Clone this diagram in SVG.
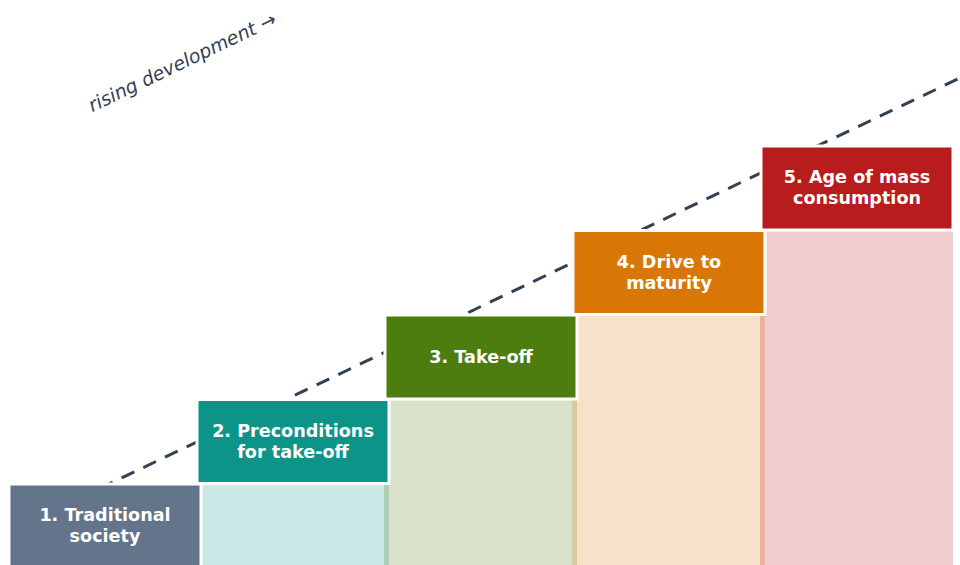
<svg xmlns="http://www.w3.org/2000/svg" width="960" height="565" viewBox="0 0 960 565">
<style>
.col{stroke:none;fill-opacity:0.22}
.box{stroke:#ffffff;stroke-width:3}
.lbl{font-family:"DejaVu Sans","Liberation Sans",sans-serif;font-size:17.6px;font-weight:bold;fill:#ffffff;text-anchor:middle}
.axis{font-family:"DejaVu Sans","Liberation Sans",sans-serif;font-size:19px;font-style:italic;fill:#334155;text-anchor:middle}
</style>
<rect width="960" height="565" fill="#ffffff"/>
<g id="columns">
<rect class="col" x="196" y="399.5" width="193" height="170" fill="#0d9488"/>
<rect class="col" x="384" y="315" width="193" height="255" fill="#4d7c0f"/>
<rect class="col" x="572" y="230.5" width="193" height="340" fill="#d97706"/>
<rect class="col" x="760" y="146" width="193" height="424" fill="#b91c1c"/>
</g>
<g id="connectors">
<line x1="100" y1="488.2" x2="975" y2="70.8" stroke="#334155" stroke-width="3" stroke-dasharray="14 10"/>
</g>
<text class="axis" x="185" y="68" transform="rotate(-25.5 185 68)">rising development →</text>
<g id="step1">
<rect class="box" x="9" y="484" width="192" height="84" fill="#64748b"/>
<text class="lbl" x="105" y="521">1. Traditional</text>
<text class="lbl" x="105" y="542">society</text>
</g>
<g id="step2">
<rect class="box" x="197" y="399.5" width="192" height="84" fill="#0d9488"/>
<text class="lbl" x="293" y="436.5">2. Preconditions</text>
<text class="lbl" x="293" y="457.5">for take-off</text>
</g>
<g id="step3">
<rect class="box" x="385" y="315" width="192" height="84" fill="#4d7c0f"/>
<text class="lbl" x="481" y="362.5">3. Take-off</text>
</g>
<g id="step4">
<rect class="box" x="573" y="230.5" width="192" height="84" fill="#d97706"/>
<text class="lbl" x="669" y="267.5">4. Drive to</text>
<text class="lbl" x="669" y="288.5">maturity</text>
</g>
<g id="step5">
<rect class="box" x="761" y="146" width="192" height="84" fill="#b91c1c"/>
<text class="lbl" x="857" y="183">5. Age of mass</text>
<text class="lbl" x="857" y="204">consumption</text>
</g>
</svg>
